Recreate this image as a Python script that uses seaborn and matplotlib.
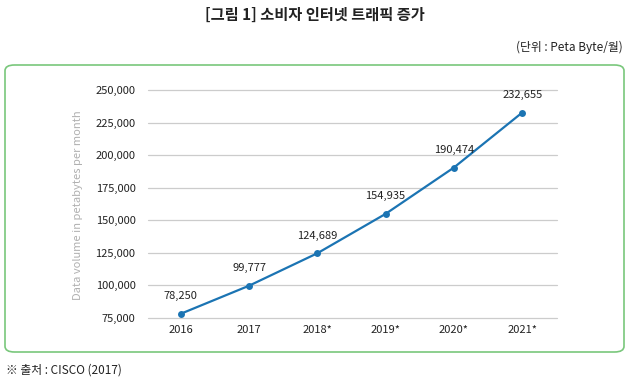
import matplotlib
matplotlib.use("Agg")
import matplotlib.pyplot as plt
from matplotlib.patches import FancyBboxPatch
import seaborn as sns
import pandas as pd

# data
years = ["2016", "2017", "2018*", "2019*", "2020*", "2021*"]
traffic = [78250, 99777, 124689, 154935, 190474, 232655]
y_ticks = [75000, 100000, 125000, 150000, 175000, 200000, 225000, 250000]

df = pd.DataFrame({"year": years, "traffic": traffic})

sns.set_style("white")
plt.rcParams["font.family"] = ["Noto Sans CJK KR", "DejaVu Sans"]

fig = plt.figure(figsize=(6.3, 3.82), dpi=100)
ax = fig.add_axes([148 / 630, 1 - 318 / 382, (557 - 148) / 630, (318 - 90) / 382])

line_color = "#1b74b3"
sns.lineplot(data=df, x="year", y="traffic", ax=ax, color=line_color,
             linewidth=1.6, marker="o", markersize=5, markeredgewidth=0,
             sort=False, zorder=3)

for i, v in enumerate(traffic):
    ax.annotate(f"{v:,}", (i, v), xytext=(0, 9), textcoords="offset points",
                ha="center", va="bottom", fontsize=8, color="#222222")

ax.set_ylim(75000, 250000)
ax.set_xlim(-0.48, 5.51)
ax.set_yticks(y_ticks)
ax.set_yticklabels([f"{t:,}" for t in y_ticks])
ax.grid(axis="y", color="#cccccc", linewidth=0.9)
ax.grid(axis="x", visible=False)
for gl in ax.get_ygridlines():
    gl.set_clip_on(False)
for s in ax.spines.values():
    s.set_visible(False)
ax.tick_params(axis="both", length=0, labelsize=8, colors="#222222")
ax.tick_params(axis="y", pad=9)
ax.tick_params(axis="x", pad=5)
ax.set_xlabel("")
ax.set_ylabel("")

fig.text(78 / 630, 1 - 205 / 382, "Data volume in petabytes per month",
         rotation=90, ha="center", va="center", fontsize=8, color="#b0b0b0")

# title and notes
fig.text(0.5, 1 - 15 / 382, "[그림 1] 소비자 인터넷 트래픽 증가", ha="center",
         va="center", fontsize=11, fontweight="bold", color="#222222")
fig.text(623 / 630, 1 - 47 / 382, "(단위 : Peta Byte/월)", ha="right",
         va="center", fontsize=8.5, color="#222222")
fig.text(6 / 630, 1 - 370 / 382, "※ 출처 : CISCO (2017)", ha="left",
         va="center", fontsize=8.5, color="#222222")

box = FancyBboxPatch((5 / 630, 1 - 352 / 382), 619 / 630, 287 / 382,
                     boxstyle="round,pad=0,rounding_size=0.015",
                     transform=fig.transFigure, fill=False,
                     edgecolor="#79c77b", linewidth=1.2)
fig.patches.append(box)

fig.savefig("out.png", dpi=100)
